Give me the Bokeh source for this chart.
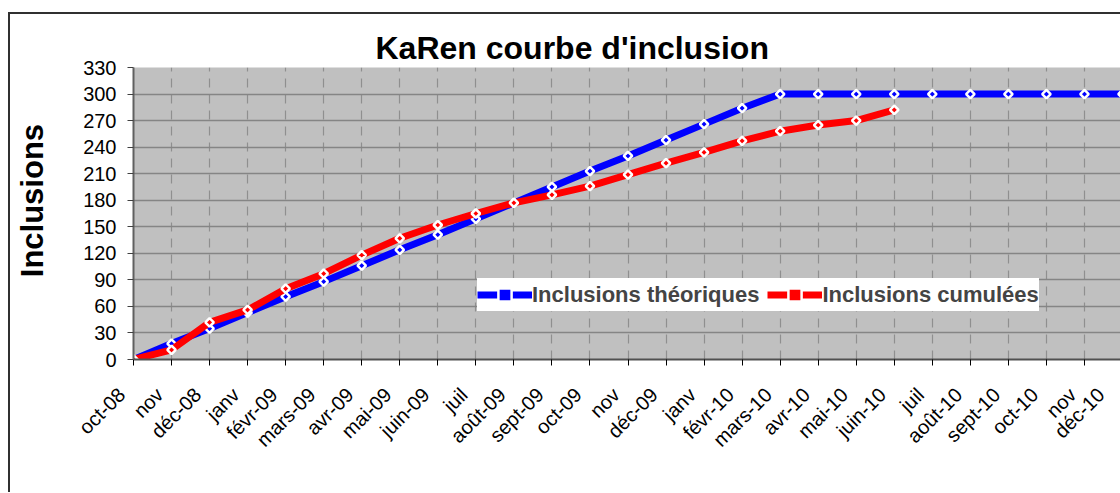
from math import pi
from bokeh.plotting import figure
from bokeh.models import Range1d, FixedTicker, Legend, LegendItem
from bokeh.embed import file_html
from bokeh.resources import INLINE

# ---- data ----
months = ["oct-08", "nov", "déc-08", "janv", "févr-09", "mars-09", "avr-09",
          "mai-09", "juin-09", "juil", "août-09", "sept-09", "oct-09", "nov",
          "déc-09", "janv", "févr-10", "mars-10", "avr-10", "mai-10", "juin-10",
          "juil", "août-10", "sept-10", "oct-10", "nov", "déc-10"]
theoriques = [0, 18, 35, 53, 71, 88, 106, 124, 141, 159, 177, 195, 213, 230,
              248, 266, 284, 300, 300, 300, 300, 300, 300, 300, 300, 300, 300]
cumulees = [0, 11, 42, 56, 80, 97, 118, 137, 152, 165, 177, 186, 196, 209,
            222, 234, 247, 258, 265, 270, 282]
y_ticks = [0, 30, 60, 90, 120, 150, 180, 210, 240, 270, 300, 330]
title_text = "KaRen courbe d'inclusion"
y_label = "Inclusions"
series_names = ["Inclusions théoriques", "Inclusions cumulées"]

FONT = "Liberation Sans"
PAD = "\u00a0\u00a0\u00a0"   # pushes rotated labels left of their tick, as in the original

x_idx_t = list(range(len(theoriques)))
x_idx_c = list(range(len(cumulees)))

p = figure(width=1112, height=480, output_backend="svg", toolbar_location=None,
           x_range=Range1d(0, len(months) - 1), y_range=Range1d(y_ticks[0], y_ticks[-1]),
           min_border_left=123, min_border_right=0, min_border_top=53,
           min_border_bottom=135)
p.margin = (12, 0, 0, 8)
p.styles = {"border-left": "2px solid #303030", "border-top": "2px solid #303030"}

p.title.text = title_text
p.title.text_font = FONT
p.title.text_font_size = "32px"
p.title.text_font_style = "bold"
p.title.text_color = "black"
p.title.align = "left"
p.title.offset = 242
p.title.standoff = 4

p.background_fill_color = "#C0C0C0"
p.border_fill_color = "white"
p.outline_line_color = None

# grids
p.ygrid.ticker = FixedTicker(ticks=y_ticks)
p.ygrid.grid_line_color = "#858585"
p.ygrid.grid_line_width = 1.5
p.xgrid.ticker = FixedTicker(ticks=list(range(len(months))))
p.xgrid.grid_line_color = "#8f8f8f"
p.xgrid.grid_line_dash = "9 7"
p.xgrid.grid_line_width = 1.2

# axes
p.yaxis.ticker = FixedTicker(ticks=y_ticks)
p.yaxis.axis_label = "\u00a0\u00a0\u00a0" + y_label
p.yaxis.axis_label_text_font = FONT
p.yaxis.axis_label_text_font_size = "31px"
p.yaxis.axis_label_text_font_style = "bold"
p.yaxis.axis_label_text_color = "black"
p.yaxis.axis_label_standoff = 30
p.yaxis.major_label_text_font = FONT
p.yaxis.major_label_text_font_size = "20px"
p.yaxis.major_label_text_color = "black"
p.yaxis.major_tick_out = 6
p.yaxis.major_tick_in = 0
p.yaxis.minor_tick_line_color = None
p.yaxis.major_label_standoff = 11
p.yaxis.axis_line_color = "#606060"
p.yaxis.axis_line_width = 2
p.yaxis.major_tick_line_color = "#404040"

p.xaxis.ticker = FixedTicker(ticks=list(range(len(months))))
p.xaxis.major_label_overrides = {i: m + PAD for i, m in enumerate(months)}
p.xaxis.major_label_orientation = pi / 4
p.xaxis.major_label_text_font = FONT
p.xaxis.major_label_text_font_size = "20px"
p.xaxis.major_label_text_color = "black"
p.xaxis.major_tick_out = 6
p.xaxis.major_tick_in = 0
p.xaxis.minor_tick_line_color = None
p.xaxis.major_label_standoff = 14
p.xaxis.axis_line_color = "#505050"
p.xaxis.axis_line_width = 2
p.xaxis.major_tick_line_color = "black"

# series
l1 = p.line(x_idx_t, theoriques, line_color="#0000FF", line_width=7)
m1 = p.scatter(x_idx_t, theoriques, marker="square", angle=pi / 4, size=6,
               fill_color="#0000FF", line_color="white", line_width=2.5)
l2 = p.line(x_idx_c, cumulees, line_color="#FF0000", line_width=7)
m2 = p.scatter(x_idx_c, cumulees, marker="square", angle=pi / 4, size=6,
               fill_color="#FF0000", line_color="white", line_width=2.5)

legend = Legend(items=[LegendItem(label=series_names[0], renderers=[l1, m1]),
                       LegendItem(label=series_names[1], renderers=[l2, m2])],
                location=(344, 48), orientation="horizontal",
                label_text_font=FONT, label_text_font_size="22px",
                label_text_font_style="bold", label_standoff=0,
                glyph_width=55, glyph_height=33, label_height=33,
                spacing=8, padding=2, margin=0,
                background_fill_color="white", background_fill_alpha=1,
                border_line_color=None)
p.add_layout(legend, "center")

open("out.html", "w").write(file_html(p, INLINE))
